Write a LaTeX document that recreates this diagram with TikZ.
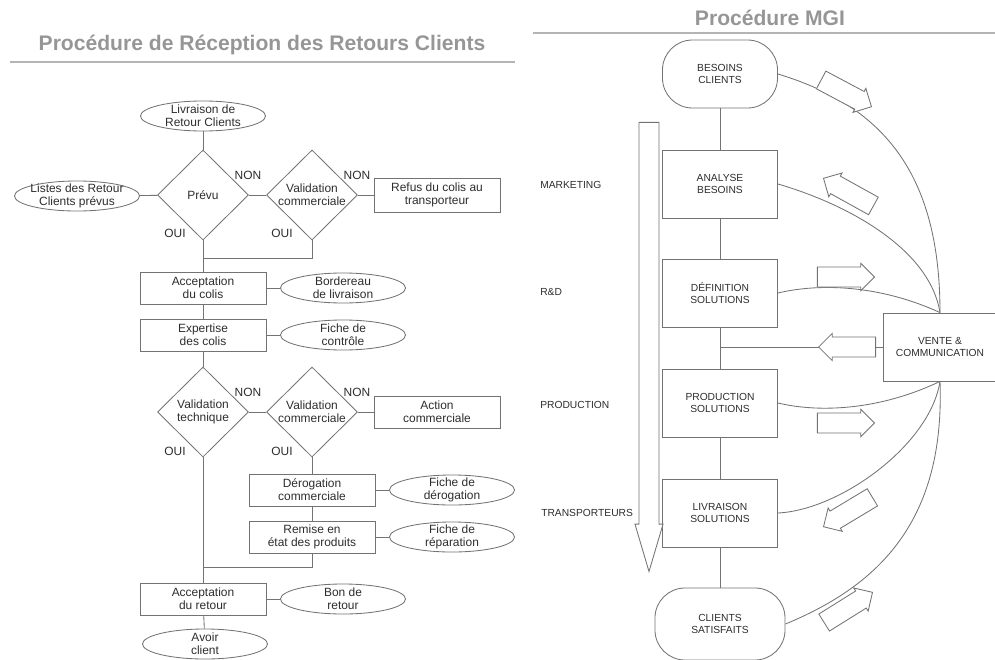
\documentclass[tikz,border=0pt]{standalone}
\usepackage{fontspec}
\setmainfont{Liberation Sans}
\usetikzlibrary{shapes.geometric, shapes.arrows, positioning}
\definecolor{linegray}{RGB}{115,115,115}
\definecolor{textgray}{RGB}{45,45,45}
\definecolor{titlegray}{RGB}{150,150,150}
\definecolor{rulegray}{RGB}{180,180,180}

\begin{document}
\begin{tikzpicture}[
    x=0.025cm, y=-0.025cm,
    line/.style={draw=linegray, line width=0.6pt},
    box/.style={line, rectangle, minimum width=3.15cm, minimum height=0.8cm, align=center, text=textgray, font=\fontsize{8.5}{9.3}\selectfont, inner sep=1pt},
    doc/.style={line, ellipse, minimum width=3.125cm, minimum height=0.75cm, align=center, text=textgray, font=\fontsize{8.5}{9.3}\selectfont, inner sep=-2pt},
    test/.style={line, diamond, minimum width=2.275cm, minimum height=2.25cm, align=center, text=textgray, font=\fontsize{8.5}{9.3}\selectfont, inner sep=-0.5pt},
    answer/.style={text=textgray, font=\fontsize{8.5}{9.3}\selectfont, inner sep=0pt},
    stage/.style={line, rectangle, minimum width=2.875cm, minimum height=1.7cm, align=center, text=textgray, font=\fontsize{7.3}{9}\selectfont},
    terminal/.style={stage, rounded corners=0.75cm},
    dept/.style={anchor=west, text=textgray, font=\fontsize{7.3}{9}\selectfont, inner sep=0pt},
    flow/.style={line, fill=white, single arrow, single arrow head extend=0.09cm, single arrow tip angle=90, inner xsep=0pt, inner ysep=0.24cm, minimum height=1.425cm, anchor=tip},
    bigflow/.style={line, fill=white, single arrow, single arrow head extend=0.1cm, single arrow tip angle=33, inner xsep=0pt, inner ysep=0.24cm, minimum height=11.225cm, anchor=tip},
    title/.style={text=titlegray, font=\fontsize{15}{17}\bfseries\selectfont},
    rule/.style={draw=rulegray, line width=1.2pt}
]
\useasboundingbox (0,0) rectangle (995,659);

% Titles
\node[title] (titleleft) at (262,45) {Procédure de Réception des Retours Clients};
\draw[rule] (10,62) -- (515,62);
\node[title] (titleright) at (770,18) {Procédure MGI};
\draw[rule] (533,33) -- (995,33);

% Reception of returns
\node[doc] (livraison) at (203,116) {Livraison de\\Retour Clients};
\node[test] (prevu) at (203,195) {Prévu};
\node[doc] (listes) at (77,196) {Listes des Retour\\Clients prévus};
\node[test] (valcom1) at (312,195) {Validation\\commerciale};
\node[box, minimum height=0.85cm] (refus) at (437,195) {Refus du colis au\\transporteur};
\node[answer] (non1) at (248,175) {NON};
\node[answer] (non2) at (357,175) {NON};
\node[answer] (oui1) at (175,233) {OUI};
\node[answer] (oui2) at (282,233) {OUI};
\coordinate (j1) at (203,258);

\node[box] (acccolis) at (203,288) {Acceptation\\du colis};
\node[doc] (bordereau) at (343,288) {Bordereau\\de livraison};
\node[box] (expertise) at (203,335) {Expertise\\des colis};
\node[doc] (controle) at (343,335) {Fiche de\\contrôle};

\node[test] (valtech) at (203,412) {Validation\\technique};
\node[test] (valcom2) at (312,412) {Validation\\commerciale};
\node[box] (action) at (437,412) {Action\\commerciale};
\node[answer] (non3) at (248,392) {NON};
\node[answer] (non4) at (357,392) {NON};
\node[answer] (oui3) at (175,451) {OUI};
\node[answer] (oui4) at (282,451) {OUI};

\node[box] (derogation) at (312,490) {Dérogation\\commerciale};
\node[doc] (fichederog) at (452,490) {Fiche de\\dérogation};
\node[box] (remise) at (312,537) {Remise en\\état des produits};
\node[doc] (ficherep) at (452,537) {Fiche de\\réparation};
\coordinate (j2) at (203,567);

\node[box] (accretour) at (203,599) {Acceptation\\du retour};
\node[doc] (bonretour) at (343,599) {Bon de\\retour};
\node[doc] (avoir) at (205,644) {Avoir\\client};

% Links
\draw[line] (livraison) -- (prevu);
\draw[line] (listes) -- (prevu);
\draw[line] (prevu) -- (valcom1);
\draw[line] (valcom1) -- (refus);
\draw[line] (prevu) -- (acccolis);
\draw[line] (valcom1) |- (j1);
\draw[line] (acccolis) -- (bordereau);
\draw[line] (acccolis) -- (expertise);
\draw[line] (expertise) -- (controle);
\draw[line] (expertise) -- (valtech);
\draw[line] (valtech) -- (valcom2);
\draw[line] (valcom2) -- (action);
\draw[line] (valcom2) -- (derogation);
\draw[line] (derogation) -- (fichederog);
\draw[line] (derogation) -- (remise);
\draw[line] (remise) -- (ficherep);
\draw[line] (remise) |- (j2);
\draw[line] (valtech) -- (accretour);
\draw[line] (accretour) -- (bonretour);
\draw[line] (accretour) -- (avoir);

% MGI procedure
\node[terminal] (besoins) at (720,74) {BESOINS\\CLIENTS};
\node[stage] (analyse) at (720,184) {ANALYSE\\BESOINS};
\node[stage] (definition) at (720,293) {DÉFINITION\\SOLUTIONS};
\node[stage] (production) at (720,403) {PRODUCTION\\SOLUTIONS};
\node[stage] (livrsol) at (720,513) {LIVRAISON\\SOLUTIONS};
\node[terminal, minimum width=3.25cm, minimum height=1.8cm] (satisfaits) at (720,624) {CLIENTS\\SATISFAITS};
\node[stage, minimum width=2.85cm] (vente) at (940,347) {VENTE \&\\COMMUNICATION};
\coordinate (tap) at (720,347);

% Departments
\node[dept] (marketing) at (540,185) {MARKETING};
\node[dept] (rd) at (540,292) {R\&D};
\node[dept] (prod) at (540,405) {PRODUCTION};
\node[dept] (transp) at (541,513) {TRANSPORTEURS};
\node[bigflow, rotate=-90] (chain) at (649,573) {};

% Chain
\draw[line] (besoins) -- (analyse);
\draw[line] (analyse) -- (definition);
\draw[line] (definition) -- (production);
\draw[line] (production) -- (livrsol);
\draw[line] (livrsol) -- (satisfaits);
\draw[line] (vente) -- (tap);

% Curves to sales
\draw[line] (besoins.east) .. controls (880,105) and (940,170) .. (vente.north);
\draw[line] (analyse.east) .. controls (850,205) and (930,250) .. (vente.north);
\draw[line] (definition.east) .. controls (820,283) and (880,285) .. (vente.north);
\draw[line] (production.east) .. controls (820,413) and (880,410) .. (vente.south);
\draw[line] (livrsol.east) .. controls (840,510) and (930,445) .. (vente.south);
\draw[line] (satisfaits.east) .. controls (880,585) and (945,520) .. (vente.south);

% Flow arrows
\node[flow, rotate=-28] (fa1) at (872,107) {};
\node[flow, rotate=151] (fa2) at (823,178) {};
\node[flow] (fa3) at (875,277) {};
\node[flow, rotate=180] (fa4) at (818,347) {};
\node[flow] (fa5) at (875,423) {};
\node[flow, rotate=211] (fa6) at (823,527) {};
\node[flow, rotate=32] (fa7) at (873,592) {};

\end{tikzpicture}
\end{document}
